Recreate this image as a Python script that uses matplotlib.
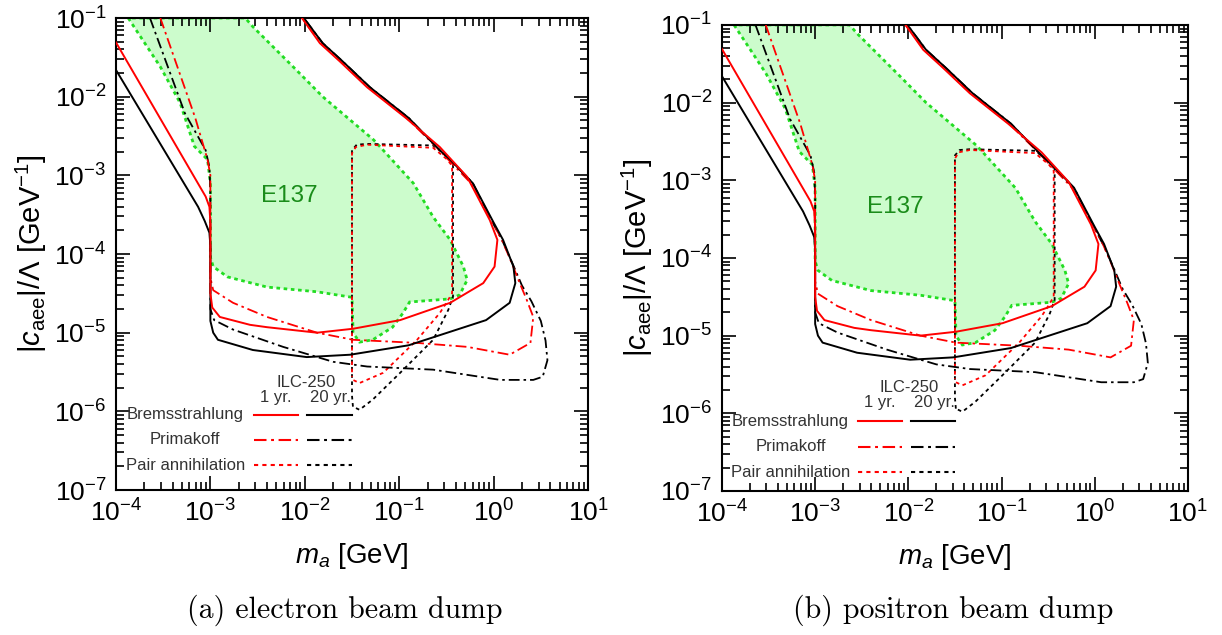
import matplotlib
matplotlib.use("Agg")
import matplotlib.pyplot as plt
import numpy as np

plt.rcParams['font.family'] = ['Liberation Sans', 'DejaVu Sans']
plt.rcParams['mathtext.fontset'] = 'custom'
plt.rcParams['mathtext.rm'] = 'Liberation Sans'
plt.rcParams['mathtext.it'] = 'Liberation Sans:italic'
plt.rcParams['mathtext.bf'] = 'Liberation Sans:bold'

# all curves stored as log10(m_a / GeV) and log10(|c_aee|/Lambda / GeV^-1)

# Bremsstrahlung, 20 yr (black solid)
brem20_lm = [-4.0, -3.13, -3.06, -3.01, -3.0, -3.0, -3.0, -2.97, -2.92, -2.55, -1.98, -1.52,
             -0.90, -0.49, -0.08, 0.17, 0.23, 0.21, 0.10, 0.0, -0.22, -0.46, -0.57, -0.90,
             -1.31, -1.60, -1.81, -2.01]
brem20_lc = [-1.66, -3.40, -3.58, -3.73, -3.9, -4.4, -4.85, -5.0, -5.09, -5.22, -5.31, -5.28,
             -5.16, -5.0, -4.84, -4.62, -4.37, -4.16, -3.82, -3.6, -3.10, -2.80, -2.68, -2.27,
             -1.88, -1.55, -1.32, -1.0]

# Bremsstrahlung, 1 yr (red solid)
brem1_lm = [-4.0, -3.05, -3.01, -3.0, -3.0, -2.98, -2.90, -2.58, -2.40, -1.87, -1.49, -0.99,
            -0.46, -0.11, 0.01, 0.04, -0.04, -0.28, -0.57, -0.93, -1.34, -1.63, -1.84, -2.03]
brem1_lc = [-1.31, -3.27, -3.40, -3.6, -4.5, -4.68, -4.80, -4.90, -4.93, -5.0, -4.95, -4.84,
            -4.62, -4.37, -4.16, -3.82, -3.57, -3.02, -2.64, -2.27, -1.88, -1.55, -1.32, -1.0]

# Primakoff, 1 yr (red dash-dot)
prim1_lm = [-3.53, -3.16, -3.03, -3.0, -3.0, -2.97, -2.76, -2.40, -1.87, -1.49, -0.81, -0.28,
            0.17, 0.39, 0.42, 0.35, 0.27, 0.17, 0.08, -0.02, -0.24, -0.48, -0.59, -0.92,
            -1.33, -1.62, -1.83, -2.03]
prim1_lc = [-1.0, -2.27, -2.80, -3.0, -4.3, -4.46, -4.62, -4.80, -5.0, -5.09, -5.13, -5.18,
            -5.28, -5.13, -4.80, -4.58, -4.35, -4.05, -3.80, -3.58, -3.10, -2.80, -2.66, -2.27,
            -1.88, -1.55, -1.32, -1.0]

# Primakoff, 20 yr (black dash-dot)
prim20_lm = [-3.64, -3.27, -3.05, -3.01, -3.0, -3.0, -2.96, -2.76, -2.23, -1.70, -1.34, -0.64,
             0.07, 0.42, 0.52, 0.57, 0.55, 0.50, 0.40, 0.30, 0.20, 0.10, -0.01, -0.22, -0.46,
             -0.57, -0.90, -1.31, -1.60, -1.81, -2.01]
prim20_lc = [-1.0, -2.21, -2.68, -2.9, -3.2, -4.7, -4.84, -4.96, -5.18, -5.37, -5.43, -5.47,
             -5.60, -5.60, -5.56, -5.35, -5.10, -4.85, -4.60, -4.40, -4.12, -3.85, -3.60, -3.10,
             -2.80, -2.68, -2.27, -1.88, -1.55, -1.32, -1.0]

# Pair annihilation, 1 yr (red dotted)
pair1_lm = [-1.50, -1.50, -1.46, -1.34, -0.64, -0.49, -0.44, -0.44, -0.50, -0.57, -0.81,
            -1.17, -1.42, -1.49, -1.50]
pair1_lc = [-5.56, -2.72, -2.64, -2.61, -2.65, -2.80, -2.88, -4.50, -4.62, -4.75, -5.09,
            -5.51, -5.64, -5.60, -5.56]

# Pair annihilation, 20 yr (black dotted)
pair20_lm = [-1.49, -1.50, -1.50, -1.45, -1.34, -0.64, -0.48, -0.43, -0.43, -0.48, -0.64,
             -0.99, -1.28, -1.42, -1.49]
pair20_lc = [-5.94, -5.8, -2.68, -2.61, -2.60, -2.62, -2.77, -2.85, -4.54, -4.71, -5.09,
             -5.51, -5.85, -5.98, -5.94]

# E137 excluded region
e137_lm = [-3.87, -3.53, -3.32, -3.17, -3.03, -3.0, -3.0, -2.97, -2.82, -2.40, -1.87, -1.50,
           -1.49, -1.49, -1.42, -1.28, -1.07, -0.96, -0.89, -0.46, -0.36, -0.28, -0.32, -0.46,
           -0.64, -0.85, -1.20, -1.27, -1.81, -2.09, -2.55, -2.63]
e137_lc = [-1.0, -1.62, -2.08, -2.63, -2.80, -3.1, -4.04, -4.16, -4.29, -4.42, -4.48, -4.55,
           -4.93, -5.0, -5.12, -5.09, -4.93, -4.75, -4.61, -4.57, -4.52, -4.33, -4.16, -3.82,
           -3.53, -3.10, -2.64, -2.55, -2.0, -1.66, -1.11, -1.0]

legend_rows = ["Bremsstrahlung", "Primakoff", "Pair annihilation"]
captions = ["(a) electron beam dump", "(b) positron beam dump"]

RED = '#ff0000'
DASHDOT = (0, (6, 2.2, 1.4, 2.2))
DOTTED = (0, (2.0, 2.0))
styles = ['-', DASHDOT, DOTTED]

fig = plt.figure(figsize=(12.22, 6.35), dpi=100)
ax1 = fig.add_axes([0.0949, 0.2283, 0.3863, 0.7433])
ax2 = fig.add_axes([0.5908, 0.2268, 0.3813, 0.7339])


def curve(ax, lm, lc, **kw):
    ax.plot(10.0 ** np.array(lm), 10.0 ** np.array(lc), **kw)


def draw_panel(ax, leg_y, head_y, label_xy):
    ax.fill(10.0 ** np.array(e137_lm), 10.0 ** np.array(e137_lc), color='#ccfccc', lw=0, zorder=1)
    ax.fill(10.0 ** np.array(e137_lm), 10.0 ** np.array(e137_lc), fill=False,
            edgecolor='#22dd22', lw=2.0, ls=(0, (1.3, 1.3)), zorder=2)

    curve(ax, pair20_lm, pair20_lc, color='k', lw=1.3, ls=DOTTED, zorder=3)
    curve(ax, pair1_lm, pair1_lc, color=RED, lw=1.3, ls=(1.5, (2.0, 2.0)), zorder=3)
    curve(ax, prim20_lm, prim20_lc, color='k', lw=1.3, ls=DASHDOT, zorder=3)
    curve(ax, prim1_lm, prim1_lc, color=RED, lw=1.3, ls=DASHDOT, zorder=3)
    curve(ax, brem20_lm, brem20_lc, color='k', lw=1.4, zorder=4)
    curve(ax, brem1_lm, brem1_lc, color=RED, lw=1.4, zorder=4)

    ax.text(label_xy[0], label_xy[1], 'E137', transform=ax.transAxes, color='#1a8c1a',
            fontsize=17.5, ha='center', va='center')

    # hand-made legend
    ax.text(0.402, head_y, 'ILC-250', transform=ax.transAxes, fontsize=12, color='#333333',
            ha='center', va='center')
    ax.text(0.338, head_y - 0.033, '1 yr.', transform=ax.transAxes, fontsize=12,
            color='#333333', ha='center', va='center')
    ax.text(0.455, head_y - 0.033, '20 yr.', transform=ax.transAxes, fontsize=12,
            color='#333333', ha='center', va='center')
    for name, st, yy in zip(legend_rows, styles, leg_y):
        ax.text(0.147, yy, name, transform=ax.transAxes, fontsize=12, color='#333333',
                ha='center', va='center')
        ax.plot([0.293, 0.386], [yy, yy], transform=ax.transAxes, color=RED, lw=1.5, ls=st)
        ax.plot([0.405, 0.50], [yy, yy], transform=ax.transAxes, color='k', lw=1.5, ls=st)

    ax.set_xscale('log')
    ax.set_yscale('log')
    ax.set_xlim(1e-4, 10)
    ax.set_ylim(1e-7, 1e-1)
    ax.xaxis.set_major_locator(matplotlib.ticker.LogLocator(base=10, numticks=10))
    ax.yaxis.set_major_locator(matplotlib.ticker.LogLocator(base=10, numticks=10))
    ax.tick_params(which='both', direction='in', top=True, right=True, width=1.2)
    ax.tick_params(which='major', length=10, labelsize=19, pad=7)
    ax.tick_params(which='minor', length=5.5)
    for sp in ax.spines.values():
        sp.set_linewidth(1.5)
    ax.set_xlabel(r'$m_a$ [GeV]', fontsize=20, labelpad=10)
    ax.set_ylabel(r'$|c_{\rm aee}|/\Lambda$ [GeV$^{-1}$]', fontsize=21, labelpad=4)


draw_panel(ax1, [0.160, 0.106, 0.052], 0.228, (0.368, 0.622))
draw_panel(ax2, [0.150, 0.095, 0.040], 0.222, (0.371, 0.609))

fig.text(345 / 1222, 1 - 610 / 635, captions[0], fontfamily='cmr10', fontsize=21.5,
         ha='center', va='center')
fig.text(953 / 1222, 1 - 610 / 635, captions[1], fontfamily='cmr10', fontsize=21.5,
         ha='center', va='center')

fig.savefig('out.png', dpi=100)
